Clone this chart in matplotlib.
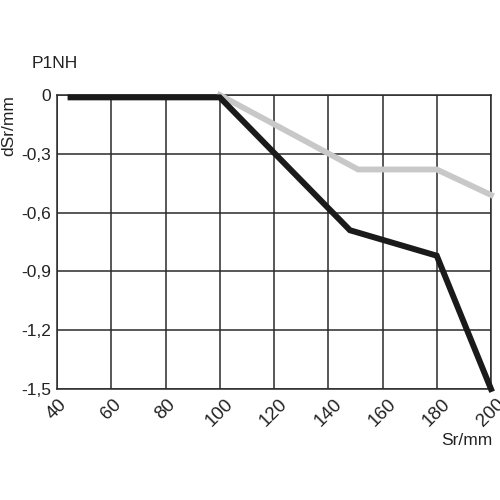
import matplotlib
matplotlib.use("Agg")
import matplotlib.pyplot as plt

plt.rcParams['font.family'] = ['Liberation Sans', 'DejaVu Sans']

# data
black_x = [45, 100, 148, 180, 200]
black_y = [-0.012, -0.012, -0.69, -0.82, -1.5]
gray_x = [100, 151, 180, 200]
gray_y = [0.0, -0.38, -0.38, -0.51]

x_ticks = [40, 60, 80, 100, 120, 140, 160, 180, 200]
y_ticks = [0, -0.3, -0.6, -0.9, -1.2, -1.5]
y_labels = ['0', '-0,3', '-0,6', '-0,9', '-1,2', '-1,5']

fig = plt.figure(figsize=(5, 5), dpi=100)
ax = fig.add_axes([0.114, 0.222, 0.868, 0.588])

ax.set_xlim(40, 200)
ax.set_ylim(-1.5, 0)
ax.set_xticks(x_ticks)
ax.set_xticklabels([str(v) for v in x_ticks], rotation=45, fontsize=13.5)
ax.set_yticks(y_ticks)
ax.set_yticklabels(y_labels, fontsize=12.5)
ax.tick_params(axis='x', length=0, pad=5, colors='#222222')
ax.tick_params(axis='y', length=0, pad=4, colors='#222222')

ax.grid(True, color='#2a2a2a', linewidth=1.1)
ax.set_axisbelow(True)
for s in ax.spines.values():
    s.set_color('#2a2a2a')
    s.set_linewidth(1.1)

ax.plot(gray_x, gray_y, color='#c8c8c8', linewidth=4.2,
        solid_joinstyle='miter', clip_on=False, zorder=3)
ax.plot(black_x, black_y, color='#1a1a1a', linewidth=4.3,
        solid_joinstyle='miter', clip_on=False, zorder=4)

fig.text(0.064, 0.864, 'P1NH', fontsize=12.5, color='#222222', va='baseline', ha='left')
fig.text(0.018, 0.81, 'dSr/mm', fontsize=12.5, color='#222222', rotation=90,
         va='top', ha='center')
fig.text(0.984, 0.11, 'Sr/mm', fontsize=12.5, color='#222222', va='baseline', ha='right')

fig.savefig('out.png', dpi=100, facecolor='white')
